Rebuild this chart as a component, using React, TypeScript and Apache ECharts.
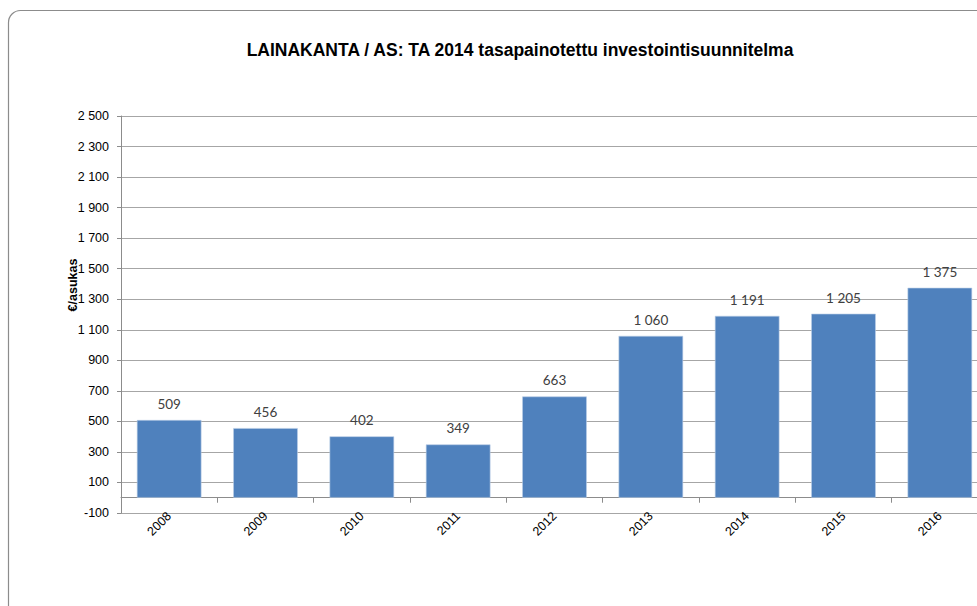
import React, { useEffect, useRef } from "react";
import * as echarts from "echarts";

const titleText = "LAINAKANTA / AS: TA 2014 tasapainotettu investointisuunnitelma";
const yAxisName = "€/asukas";
const years = ["2008", "2009", "2010", "2011", "2012", "2013", "2014", "2015", "2016"];
const values = [509, 456, 402, 349, 663, 1060, 1191, 1205, 1375];
const yMin = -100;
const yMax = 2500;
const yStep = 200;

const fmt = (v: number) => {
  const s = String(Math.abs(Math.round(v)));
  const withSp = s.replace(/\B(?=(\d{3})+(?!\d))/g, " ");
  return (v < 0 ? "-" : "") + withSp;
};

export default function App() {
  const ref = useRef<HTMLDivElement>(null);
  useEffect(() => {
    if (!ref.current) return;
    const chart = echarts.init(ref.current, null, { renderer: "svg" });
    chart.setOption({
      animation: false,
      backgroundColor: "#ffffff",
      title: {
        text: titleText,
        left: 515,
        top: 36,
        textAlign: "center",
        textStyle: {
          fontFamily: "Liberation Sans",
          fontSize: 17.5,
          fontWeight: "bold",
          color: "#000000",
        },
      },
      graphic: [
        {
          type: "rect",
          shape: { x: 8.5, y: 10.5, width: 1000, height: 640, r: 12 },
          style: { fill: "none", stroke: "#8c8c8c", lineWidth: 1.2 },
          z: 100,
          silent: true,
        },
        {
          type: "text",
          x: 73,
          y: 285,
          rotation: Math.PI / 2,
          style: {
            text: yAxisName,
            fontFamily: "Liberation Sans",
            fontSize: 12.5,
            fontWeight: "bold",
            fill: "#000000",
            align: "center",
            verticalAlign: "middle",
          },
        },
      ],
      grid: [
        {
          left: 121,
          top: 116,
          width: 867,
          height: 397,
          containLabel: false,
          outerBoundsMode: "none",
        },
      ],
      xAxis: [
        {
          type: "category",
          data: years,
          gridIndex: 0,
          axisLine: { onZero: true, lineStyle: { color: "#8c8c8c", width: 1 } },
          axisTick: { show: true, length: 5, lineStyle: { color: "#8c8c8c" } },
          axisLabel: { show: false },
          splitLine: { show: false },
        },
        {
          type: "category",
          data: years,
          gridIndex: 0,
          position: "bottom",
          axisLine: { show: false, onZero: false },
          axisTick: { show: false },
          axisLabel: {
            show: true,
            rotate: 45,
            margin: 1,
            fontFamily: "Liberation Sans",
            fontSize: 12.5,
            color: "#000000",
          },
          splitLine: { show: false },
        },
      ],
      yAxis: [
        {
          type: "value",
          min: yMin,
          max: yMax,
          interval: yStep,
          axisLine: { show: true, lineStyle: { color: "#8c8c8c" } },
          axisTick: { show: true, length: 4, lineStyle: { color: "#8c8c8c" } },
          axisLabel: {
            margin: 12,
            fontFamily: "Liberation Sans",
            fontSize: 12.5,
            color: "#000000",
            formatter: (v: number) => fmt(v),
          },
          splitLine: { show: true, lineStyle: { color: "#a6a6a6", width: 1 } },
        },
      ],
      series: [
        {
          type: "bar",
          data: values,
          xAxisIndex: 0,
          yAxisIndex: 0,
          barCategoryGap: "33%",
          itemStyle: { color: "#4F81BD", borderColor: "#b9cde5", borderWidth: 0.6 },
          label: {
            show: true,
            position: "top",
            distance: 9,
            fontFamily: "Lato",
            fontSize: 13.5,
            color: "#404040",
            formatter: (p: any) => fmt(p.value),
          },
        },
      ],
    });
    return () => chart.dispose();
  }, []);
  return (
    <div
      ref={ref}
      style={{ position: "fixed", left: 0, top: 0, width: 977, height: 606 }}
    />
  );
}
